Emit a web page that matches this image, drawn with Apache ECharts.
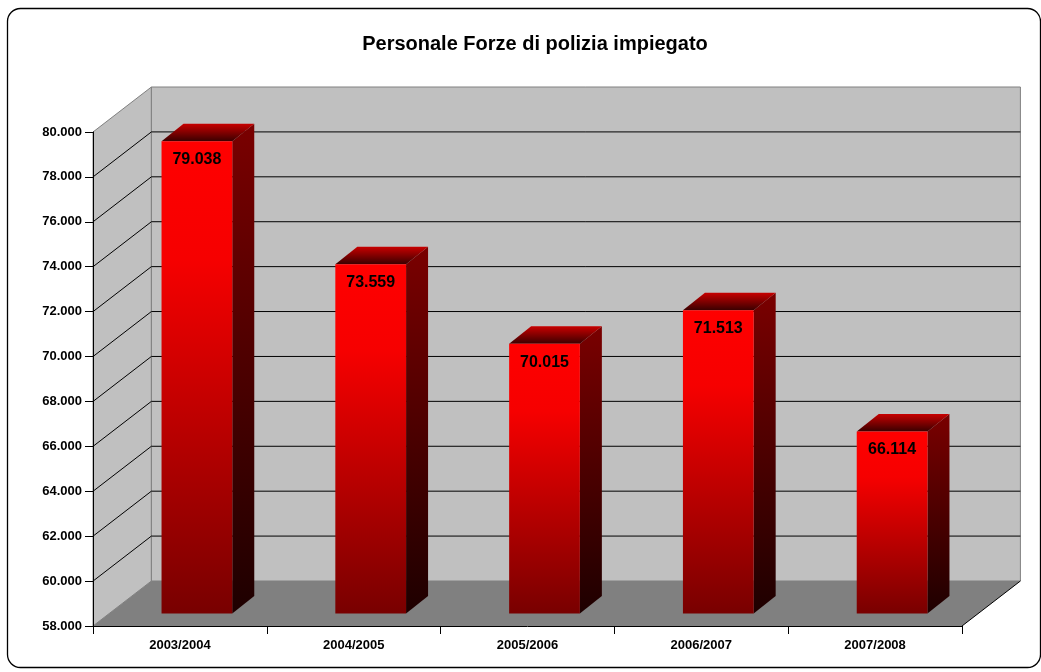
<!DOCTYPE html>
<html>
<head>
<meta charset="utf-8">
<script src="https://cdn.jsdelivr.net/npm/echarts@6/dist/echarts.min.js"></script>
<style>
html,body{margin:0;padding:0;background:#fff;}
#chart{width:1041px;height:672px;}
</style>
</head>
<body>
<div id="chart"></div>
<script>
const titleText = 'Personale Forze di polizia impiegato';
const categories = ['2003/2004', '2004/2005', '2005/2006', '2006/2007', '2007/2008'];
const values = [79038, 73559, 70015, 71513, 66114];
const yTicks = [58000, 60000, 62000, 64000, 66000, 68000, 70000, 72000, 74000, 76000, 78000, 80000];

const yMin = yTicks[0], yMax = yTicks[yTicks.length - 1], yStep = yTicks[1] - yTicks[0];
const fmt = v => String(v).replace(/\B(?=(\d{3})+(?!\d))/g, '.');

// oblique depth of the 3D box
const DX = 58.4, DY = -45;
// bar placement inside the depth
const BOX = 17, BOY = -12.4, BDX = 22, BDY = -17.5, BW = 0.407;

const chart = echarts.init(document.getElementById('chart'), null, {renderer: 'canvas'});

function renderBack(params, api) {
  const cs = params.coordSys;
  const x0 = cs.x, x1 = cs.x + cs.width;
  const yb = api.coord([0, yMin])[1], yt = api.coord([0, yMax])[1];
  const ch = [];
  ch.push({type: 'polygon', shape: {points: [[x0, yt], [x0 + DX, yt + DY], [x0 + DX, yb + DY], [x0, yb]]},
    style: {fill: '#c0c0c0', stroke: '#808080', lineWidth: 1}});
  ch.push({type: 'rect', shape: {x: x0 + DX, y: yt + DY, width: x1 - x0, height: yb - yt},
    style: {fill: '#c0c0c0', stroke: '#808080', lineWidth: 1}});
  ch.push({type: 'polygon', shape: {points: [[x0, yb], [x1, yb], [x1 + DX, yb + DY], [x0 + DX, yb + DY]]},
    style: {fill: '#808080'}});
  ch.push({type: 'line', shape: {x1: x1, y1: yb, x2: x1 + DX, y2: yb + DY},
    style: {stroke: '#000', lineWidth: 1}});
  yTicks.forEach(t => {
    if (t === yMin || t === yMax) return;
    const y = api.coord([0, t])[1];
    ch.push({type: 'line', shape: {x1: x0 + DX, y1: y + DY, x2: x1 + DX, y2: y + DY},
      style: {stroke: '#000', lineWidth: 1}});
    ch.push({type: 'line', shape: {x1: x0, y1: y, x2: x0 + DX, y2: y + DY},
      style: {stroke: '#000', lineWidth: 1}});
  });
  return {type: 'group', children: ch};
}

function renderBar(params, api) {
  const c = api.coord([api.value(0), api.value(1)]);
  const base = api.coord([api.value(0), yMin]);
  const bw = api.size([1, 0])[0] * BW;
  const cx = c[0] + BOX;
  const top = c[1] + BOY, bottom = base[1] + BOY;
  const xl = cx - bw / 2, xr = cx + bw / 2;
  return {type: 'group', children: [
    {type: 'polygon', shape: {points: [[xr, top], [xr + BDX, top + BDY], [xr + BDX, bottom + BDY], [xr, bottom]]},
      style: {fill: new echarts.graphic.LinearGradient(0, 0, 0, 1, [
        {offset: 0, color: '#7a0000'}, {offset: 1, color: '#1e0000'}])}},
    {type: 'polygon', shape: {points: [[xl, top], [xr, top], [xr + BDX, top + BDY], [xl + BDX, top + BDY]]},
      style: {fill: new echarts.graphic.LinearGradient(0, 1, 0, 0, [
        {offset: 0, color: '#3a0000'}, {offset: 1, color: '#c80000'}])}},
    {type: 'rect', shape: {x: xl, y: top, width: bw, height: bottom - top},
      style: {fill: new echarts.graphic.LinearGradient(0, 0, 0, 1, [
        {offset: 0, color: '#ff0000'}, {offset: 0.25, color: '#f60000'}, {offset: 1, color: '#780000'}])}},
    {type: 'text', style: {text: fmt(api.value(1)), x: cx, y: top + 18.5, align: 'center', verticalAlign: 'middle',
      fill: '#000', font: 'bold 16px "Liberation Sans", Arial, sans-serif'}}
  ]};
}

chart.setOption({
  animation: false,
  backgroundColor: '#ffffff',
  title: {
    text: titleText, left: 530, top: 29, textAlign: 'center',
    textStyle: {fontFamily: '"Liberation Sans", Arial, sans-serif', fontWeight: 'bold', fontSize: 20, color: '#000'}
  },
  graphic: [{
    type: 'rect', shape: {x: 7.5, y: 8.5, width: 1033, height: 659, r: 13},
    style: {fill: 'none', stroke: '#000', lineWidth: 1.3}, z: 100
  }],
  grid: {left: 93, right: 79, top: 132, bottom: 46},
  xAxis: {
    type: 'category', data: categories, z: 10,
    axisLine: {lineStyle: {color: '#000', width: 1}},
    axisTick: {show: true, length: 8, lineStyle: {color: '#000'}},
    axisLabel: {margin: 13, color: '#000', fontWeight: 'bold', fontSize: 13, fontFamily: '"Liberation Sans", Arial, sans-serif'},
    splitLine: {show: false}
  },
  yAxis: {
    type: 'value', min: yMin, max: yMax, interval: yStep, z: 10,
    axisLine: {show: true, lineStyle: {color: '#000', width: 1}},
    axisTick: {show: true, length: 8, lineStyle: {color: '#000'}},
    axisLabel: {margin: 11, color: '#000', fontWeight: 'bold', fontSize: 13, fontFamily: '"Liberation Sans", Arial, sans-serif',
      formatter: v => fmt(v)},
    splitLine: {show: false}
  },
  series: [
    {type: 'custom', z: 1, silent: true, renderItem: renderBack, data: [[0, yMin]], clip: false},
    {type: 'custom', z: 3, silent: true, renderItem: renderBar, clip: false,
      data: values.map((v, i) => [i, v])}
  ]
});
</script>
</body>
</html>
